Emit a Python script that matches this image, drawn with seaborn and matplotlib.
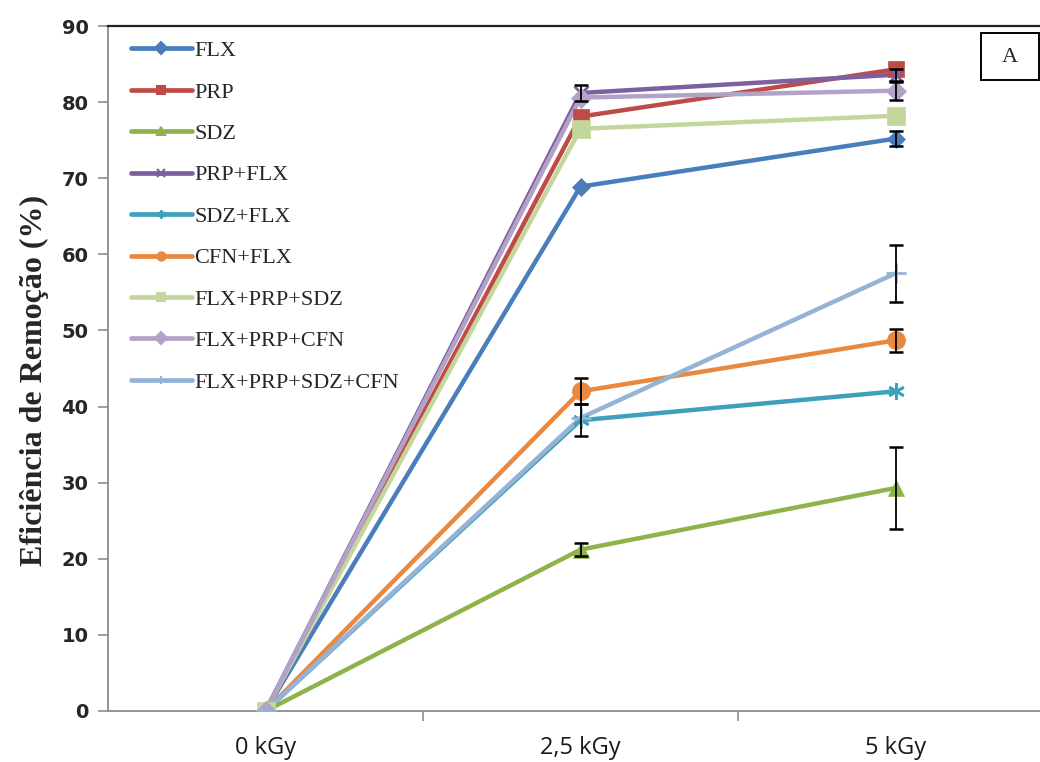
import matplotlib
matplotlib.use("Agg")
import matplotlib.pyplot as plt
from matplotlib.lines import Line2D
from matplotlib.patches import Rectangle
import seaborn as sns
import pandas as pd
import numpy as np

# Dose levels and removal efficiency (%) for each compound / mixture
doses = ["0 kGy", "2,5 kGy", "5 kGy"]
series_names = ["FLX", "PRP", "SDZ", "PRP+FLX", "SDZ+FLX", "CFN+FLX",
                "FLX+PRP+SDZ", "FLX+PRP+CFN", "FLX+PRP+SDZ+CFN"]

flx = [0, 68.9, 75.2]
prp = [0, 78.1, 84.3]
sdz = [0, 21.2, 29.3]
prp_flx = [0, 81.2, 83.6]
sdz_flx = [0, 38.2, 42.0]
cfn_flx = [0, 42.0, 48.7]
flx_prp_sdz = [0, 76.5, 78.2]
flx_prp_cfn = [0, 80.6, 81.5]
flx_prp_sdz_cfn = [0, 38.5, 57.5]

# Standard deviations
err_flx = [0, 0, 1.0]
err_prp = [0, 0, 0]
err_sdz = [0, 0.9, 5.4]
err_prp_flx = [0, 1.0, 0.8]
err_sdz_flx = [0, 2.1, 0]
err_cfn_flx = [0, 1.7, 1.5]
err_flx_prp_sdz = [0, 0, 0]
err_flx_prp_cfn = [0, 0, 1.2]
err_flx_prp_sdz_cfn = [0, 0, 3.7]

values = [flx, prp, sdz, prp_flx, sdz_flx, cfn_flx,
          flx_prp_sdz, flx_prp_cfn, flx_prp_sdz_cfn]
errors = [err_flx, err_prp, err_sdz, err_prp_flx, err_sdz_flx, err_cfn_flx,
          err_flx_prp_sdz, err_flx_prp_cfn, err_flx_prp_sdz_cfn]

colors = ["#4A7EBB", "#BE4B48", "#8FB34B", "#7D60A0", "#3FA0BA", "#E8893F",
          "#C3D69B", "#B3A2C7", "#95B3D7"]
markers = ["D", "s", "^", "x", (6, 2, 0), "o", "s", "D", "+"]
marker_sizes = [9, 11, 12, 10, 12, 13, 13, 10, 15]

df = pd.DataFrame({
    "dose": np.tile(doses, len(series_names)),
    "pos": np.tile(np.arange(len(doses)), len(series_names)),
    "serie": np.repeat(series_names, len(doses)),
    "value": np.concatenate(values),
    "err": np.concatenate(errors),
})

sns.set_theme(style="white")
fig = plt.figure(figsize=(10.4, 7.62), dpi=100)
ax = fig.add_axes([108 / 1040, 51 / 762, 945 / 1040, 685 / 762])

palette = dict(zip(series_names, colors))
sns.lineplot(data=df, x="pos", y="value", hue="serie", hue_order=series_names,
             palette=palette, linewidth=3.2, ax=ax, legend=False, sort=False)

# Markers per series (drawn on top of the lines, with no white edge)
for name, col, mk, ms in zip(series_names, colors, markers, marker_sizes):
    sub = df[df["serie"] == name]
    ax.plot(sub["pos"], sub["value"], linestyle="none", marker=mk,
            markersize=ms, color=col, markeredgecolor=col,
            markeredgewidth=2.0 if mk in ("x", "+", (6, 2, 0)) else 0.5,
            zorder=3)

# Error bars
for name in series_names:
    sub = df[(df["serie"] == name) & (df["err"] > 0)]
    if len(sub):
        ax.errorbar(sub["pos"], sub["value"], yerr=sub["err"], fmt="none",
                    ecolor="black", elinewidth=1.3, capsize=5, capthick=1.8,
                    zorder=4)

# Legend
handles = []
for name, col, mk in zip(series_names, colors, markers):
    handles.append(Line2D([0], [0], color=col, linewidth=3.4, marker=mk,
                          markersize=6, markeredgecolor=col,
                          markeredgewidth=1.5))
leg = ax.legend(handles, series_names, loc="upper left",
                bbox_to_anchor=(0.003, 1.008), frameon=False,
                handlelength=2.75, handletextpad=0.1, labelspacing=0.94,
                prop={"family": "Liberation Serif", "size": 16})

# Axes styling
ax.set_xlim(-0.5, 2.5)
ax.set_ylim(0, 90)
ax.set_yticks(np.arange(0, 91, 10))
ax.set_xticks(range(len(doses)))
ax.set_xticklabels(doses, fontfamily="Open Sans", fontsize=17)
ax.set_xticks([0.5, 1.5], minor=True)
ax.tick_params(axis="x", which="major", length=0, pad=18)
ax.tick_params(axis="x", which="minor", length=7, width=1.2, color="#8C8C8C",
               direction="out", bottom=True)
ax.tick_params(axis="y", length=7, width=1.2, color="#8C8C8C", direction="out",
               left=True, pad=7)
for lab in ax.get_yticklabels():
    lab.set_fontfamily("DejaVu Sans")
    lab.set_fontweight("bold")
    lab.set_fontsize(14)
    lab.set_color("#262626")
for lab in ax.get_xticklabels():
    lab.set_color("#1A1A1A")

ax.spines["right"].set_visible(False)
ax.spines["top"].set_color("#222222")
ax.spines["top"].set_linewidth(1.6)
for side in ("left", "bottom"):
    ax.spines[side].set_color("#8C8C8C")
    ax.spines[side].set_linewidth(1.3)

ax.set_xlabel("")
ax.set_ylabel("Eficiência de Remoção (%)", fontfamily="Liberation Serif",
              fontweight="bold", fontsize=23)
ax.yaxis.set_label_coords(-0.0625, 0.483)

# Panel label
fig.patches.append(Rectangle((981 / 1040, 1 - 80 / 762), 58 / 1040, 47 / 762,
                             transform=fig.transFigure, facecolor="white",
                             edgecolor="black", linewidth=1.4, zorder=5))
fig.text(1010 / 1040, 1 - 57 / 762, "A", ha="center", va="center",
         fontfamily="Liberation Serif", fontsize=16, zorder=6)

fig.savefig("out.png", dpi=100)
